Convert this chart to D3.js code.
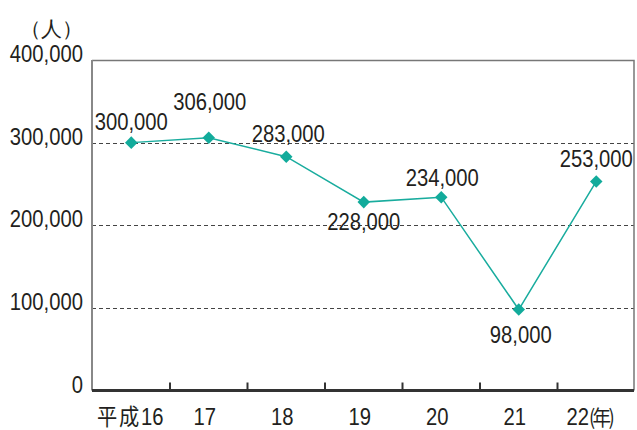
<!DOCTYPE html>
<html><head><meta charset="utf-8">
<script src="https://cdn.jsdelivr.net/npm/d3@7"></script>
<style>
html,body{margin:0;padding:0;background:#fff;}
svg{display:block;}
text{font-family:"Liberation Sans",Arial,sans-serif;fill:#231f20;}
</style></head>
<body><svg id="c" width="637" height="430"></svg>
<script>
const categories = ["平成16","17","18","19","20","21","22(年)"];
const values = [300000,306000,283000,228000,234000,98000,253000];
const yTicks = [0,100000,200000,300000,400000];
const yTickLabels = ["0","100,000","200,000","300,000","400,000"];
const valueLabels = ["300,000","306,000","283,000","228,000","234,000","98,000","253,000"];
const unitLabel = "（人）";
// label placement (dx, dy relative to point)
const labelDx = [0,1,2,0,1,2,0];
const labelDy = [-13,-28,-15,28,-11,33,-14];

const svg = d3.select("#c");
const pL = 92, pR = 634, pT = 60, pB = 390.5;
const SX = 0.88;
const FS = 23;

const x = d3.scaleBand().domain(categories).range([92.5, 635]).paddingInner(0).paddingOuter(0);
const y = d3.scaleLinear().domain([0,400000]).range([pB, pT]);

// gridlines
svg.append("g").selectAll("line").data(yTicks.filter(d => d>0 && d<400000)).join("line")
  .attr("x1", pL).attr("x2", pR)
  .attr("y1", d => Math.round(y(d))+0.5).attr("y2", d => Math.round(y(d))+0.5)
  .attr("stroke","#444").attr("stroke-width",1).attr("stroke-dasharray","4,3");

// frame top/right
svg.append("path")
  .attr("d", `M${pL},${pT+0.5}H${pR}V${pB}`)
  .attr("fill","none").attr("stroke","#777").attr("stroke-width",1.5);
// left axis
svg.append("line").attr("x1",pL).attr("x2",pL).attr("y1",pT).attr("y2",pB)
  .attr("stroke","#888").attr("stroke-width",2);

// y labels
svg.append("g").selectAll("text").data(yTicks).join("text")
  .attr("transform", d => `translate(83,${y(d)+2}) scale(${SX},1)`)
  .attr("text-anchor","end").attr("font-size",FS)
  .text((d,i) => yTickLabels[i]);

// unit
svg.append("text").attr("x", 51).attr("y", 36).attr("text-anchor","middle")
  .attr("font-size",21).attr("font-family","'Noto Sans CJK JP',sans-serif").text(unitLabel);

// bottom axis
svg.append("line").attr("x1",pL).attr("x2",pR).attr("y1",pB).attr("y2",pB)
  .attr("stroke","#333").attr("stroke-width",3);
const bounds = categories.slice(1).map(c => x(c));
svg.append("g").selectAll("line").data(bounds).join("line")
  .attr("x1", d => d).attr("x2", d => d).attr("y1", pB-8).attr("y2", pB)
  .attr("stroke","#333").attr("stroke-width",2);

// x labels
svg.append("g").selectAll("text").data(categories).join("text")
  .attr("transform", (d,i) => `translate(${x(d) + x.bandwidth()/2 + (i===0 ? -1 : i===categories.length-1 ? -7 : -4)},425) scale(${SX},1)`)
  .attr("text-anchor","middle").attr("font-size",FS)
  .each(function(d){
    const t = d3.select(this);
    const m = d.match(/^([^0-9]*)([0-9]+)(.*)$/);
    if (m[1]) t.append("tspan").attr("font-family","'Noto Sans CJK JP',sans-serif").attr("font-size",23).attr("letter-spacing","2").text(m[1]);
    t.append("tspan").text(m[2]);
    if (m[3]) t.append("tspan").attr("font-family","'Noto Sans CJK JP',sans-serif").attr("font-size",21).attr("letter-spacing","-3").text(m[3]);
  });

// line
const cx = d => x(d) + x.bandwidth()/2;
const pts = categories.map((c,i) => [cx(c), y(values[i])]);
svg.append("path").datum(pts)
  .attr("d", d3.line())
  .attr("fill","none").attr("stroke","#19ac9e").attr("stroke-width",1.5);

// markers
svg.append("g").selectAll("path").data(pts).join("path")
  .attr("transform", d => `translate(${d[0]},${d[1]})`)
  .attr("d", d3.symbol().type(d3.symbolDiamond2).size(100))
  .attr("fill","#12ab9b");

// value labels
svg.append("g").selectAll("text").data(pts).join("text")
  .attr("transform", (d,i) => `translate(${d[0] + labelDx[i]},${d[1] + labelDy[i]}) scale(${SX},1)`)
  .attr("text-anchor","middle").attr("font-size",FS)
  .text((d,i) => valueLabels[i]);
</script></body></html>
